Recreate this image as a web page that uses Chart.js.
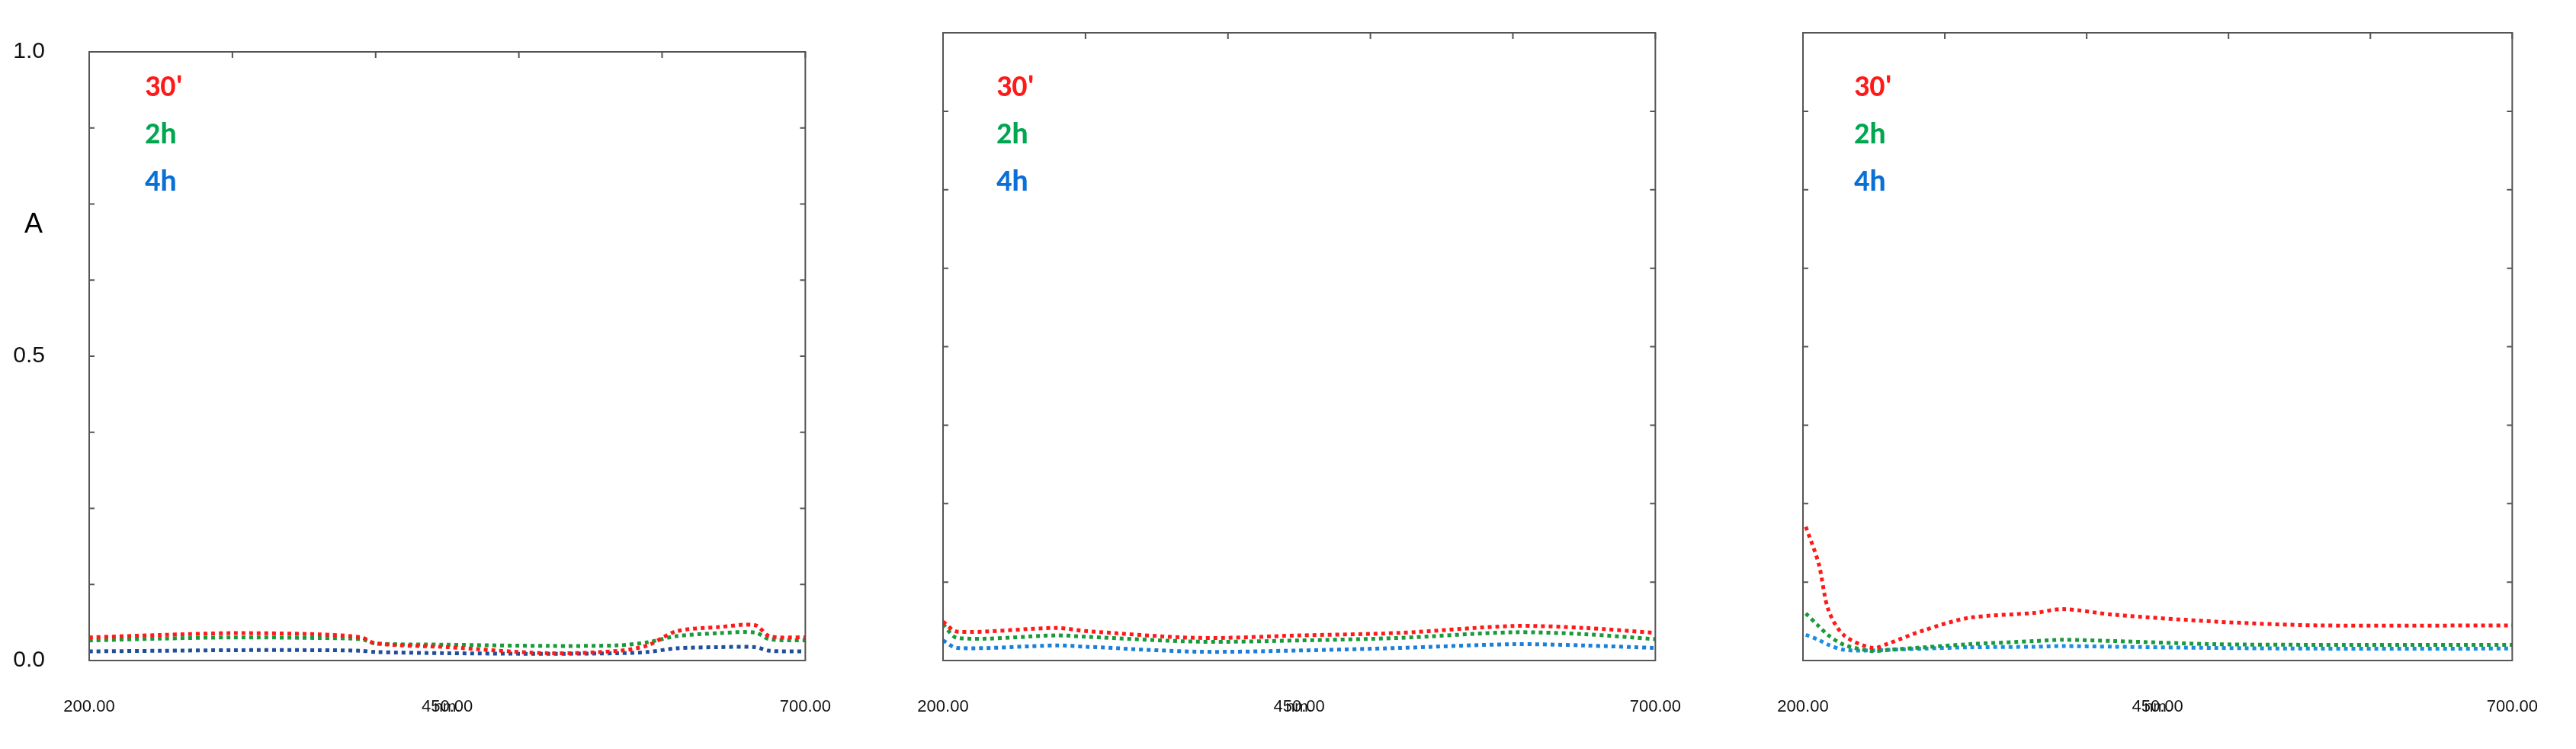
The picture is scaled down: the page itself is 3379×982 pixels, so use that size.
<!DOCTYPE html>
<html>
<head>
<meta charset="utf-8">
<script src="https://cdn.jsdelivr.net/npm/chart.js@4/dist/chart.umd.min.js"></script>
<style>
body { margin: 0; background: #fff; width: 3379px; height: 982px; overflow: hidden; position: relative; }
.panel { position: absolute; top: 0; height: 982px; }
.legend { position: absolute; font: bold 40px Calibri, "Liberation Sans", sans-serif; line-height: 62px; }
</style>
</head>
<body>
<div class="panel" style="left:0"><canvas id="c1"></canvas></div>
<div class="panel" style="left:1120px"><canvas id="c2"></canvas></div>
<div class="panel" style="left:2248px"><canvas id="c3"></canvas></div>
<div style="position:absolute;left:32px;top:272px;font:36px 'Liberation Sans',sans-serif">A</div>
<div class="legend" style="left:190px;top:82px"><div style="color:#ff1a1a">30'</div><div style="color:#00a650">2h</div><div style="color:#0a6fd6">4h</div></div>
<div class="legend" style="left:1307px;top:82px"><div style="color:#ff1a1a">30'</div><div style="color:#00a650">2h</div><div style="color:#0a6fd6">4h</div></div>
<div class="legend" style="left:2432px;top:82px"><div style="color:#ff1a1a">30'</div><div style="color:#00a650">2h</div><div style="color:#0a6fd6">4h</div></div>
<script>
// wavelengths (nm) and absorbance
const wl1 = [200, 250, 300, 360, 390, 400, 450, 520, 570, 590, 610, 640, 665, 675, 700];
const red1 = [0.038, 0.042, 0.045, 0.043, 0.038, 0.028, 0.022, 0.012, 0.016, 0.025, 0.048, 0.055, 0.058, 0.040, 0.038];
const green1 = [0.033, 0.036, 0.038, 0.037, 0.035, 0.028, 0.026, 0.024, 0.025, 0.030, 0.040, 0.045, 0.046, 0.035, 0.033];
const blue1 = [0.015, 0.016, 0.017, 0.017, 0.016, 0.014, 0.012, 0.011, 0.012, 0.014, 0.020, 0.022, 0.022, 0.016, 0.015];

const wl2 = [200, 210, 280, 300, 380, 450, 520, 600, 650, 700];
const red2 = [0.062, 0.046, 0.052, 0.047, 0.036, 0.040, 0.044, 0.055, 0.052, 0.044];
const green2 = [0.058, 0.036, 0.040, 0.038, 0.030, 0.032, 0.036, 0.045, 0.042, 0.034];
const blue2 = [0.032, 0.020, 0.024, 0.022, 0.014, 0.016, 0.020, 0.026, 0.024, 0.020];

const wl3 = [202, 211, 218, 229, 249, 260, 285, 317, 364, 383, 419, 491, 563, 700];
const red3 = [0.213, 0.155, 0.080, 0.040, 0.020, 0.027, 0.048, 0.068, 0.076, 0.082, 0.073, 0.062, 0.056, 0.056];
const green3 = [0.075, 0.055, 0.040, 0.025, 0.015, 0.017, 0.021, 0.026, 0.031, 0.033, 0.031, 0.026, 0.025, 0.025];
const blue3 = [0.041, 0.033, 0.025, 0.017, 0.016, 0.017, 0.019, 0.021, 0.022, 0.023, 0.022, 0.020, 0.019, 0.019];

const xLabelTicks = [200, 450, 700];
const topTicks = [200, 300, 400, 500, 600, 700];
const yLabelTicks = [0, 0.5, 1];

const frame = {
    id: 'frame',
    afterDraw(chart) {
        const ctx = chart.ctx, a = chart.chartArea;
        const xs = chart.scales.x, ys = chart.scales.y;
        ctx.save();
        ctx.strokeStyle = '#555';
        ctx.lineWidth = 2;
        ctx.strokeRect(a.left, a.top, a.right - a.left, a.bottom - a.top);
        ctx.beginPath();
        for (let v = 0; v <= 1.0001; v += 0.125) {
            const py = ys.getPixelForValue(v);
            ctx.moveTo(a.left, py); ctx.lineTo(a.left + 7, py);
            ctx.moveTo(a.right, py); ctx.lineTo(a.right - 7, py);
        }
        topTicks.forEach(v => {
            const px = xs.getPixelForValue(v);
            ctx.moveTo(px, a.top); ctx.lineTo(px, a.top + 8);
        });
        ctx.stroke();
        ctx.restore();
    }
};

function pts(xs, ys) {
    return xs.map((x, i) => ({ x: x, y: ys[i] }));
}

function makeChart(id, width, wl, r, g, b, showY, blueColor) {
    const canvas = document.getElementById(id);
    canvas.width = width;
    canvas.height = 982;
    const ds = (data, color) => ({
        data: pts(wl, data), borderColor: color, borderWidth: 5,
        borderDash: [5, 5], pointRadius: 0, tension: 0.3, fill: false
    });
    new Chart(canvas, {
        type: 'line',
        data: { datasets: [ds(r, '#ff1a1a'), ds(g, '#1a9a3a'), ds(b, blueColor)] },
        plugins: [frame],
        options: {
            responsive: false, animation: false,
            layout: { padding: { top: 43, right: 0 } },
            plugins: { legend: { display: false }, tooltip: { enabled: false } },
            scales: {
                x: {
                    type: 'linear', min: 200, max: 700,
                    grid: { display: false }, border: { display: false },
                    afterBuildTicks: s => { s.ticks = xLabelTicks.map(v => ({ value: v })); },
                    afterFit: s => { s.height = 116; },
                    ticks: {
                        padding: 40, color: '#111', maxRotation: 0,
                        font: { size: 22, family: 'Liberation Sans' },
                        callback: v => v.toFixed(2)
                    },
                    title: {
                        display: true, text: 'nm.', color: '#111',
                        padding: { top: 0, bottom: 42 },
                        font: { size: 21, family: 'Liberation Sans' }
                    }
                },
                y: {
                    min: 0, max: 1,
                    grid: { display: false }, border: { display: false },
                    afterBuildTicks: s => { s.ticks = yLabelTicks.map(v => ({ value: v })); },
                    afterFit: s => { s.width = 117; },
                    ticks: {
                        display: showY, padding: 50, color: '#111',
                        font: { size: 30, family: 'Liberation Sans' },
                        callback: v => v.toFixed(1)
                    }
                }
            }
        }
    });
}

makeChart('c1', 1130, wl1, red1, green1, blue1, true, '#1f4f9a');
makeChart('c2', 1125, wl2, red2, green2, blue2, false, '#1a7fd8');
makeChart('c3', 1121, wl3, red3, green3, blue3, false, '#1a8fe0');
</script>
</body>
</html>
